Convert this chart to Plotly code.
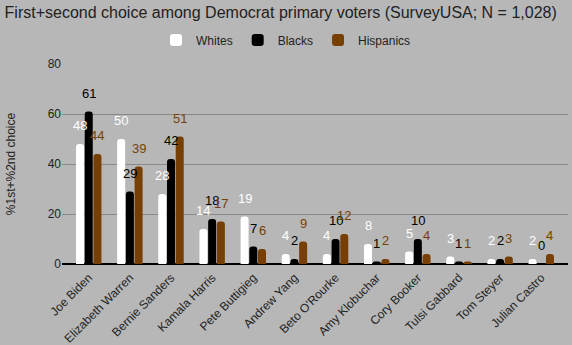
import plotly.graph_objects as go

candidates = ["Joe Biden", "Elizabeth Warren", "Bernie Sanders", "Kamala Harris",
              "Pete Buttigieg", "Andrew Yang", "Beto O'Rourke", "Amy Klobuchar",
              "Cory Booker", "Tulsi Gabbard", "Tom Steyer", "Julian Castro"]
whites = [48, 50, 28, 14, 19, 4, 4, 8, 5, 3, 2, 2]
blacks = [61, 29, 42, 18, 7, 2, 10, 1, 10, 1, 2, 0]
hispanics = [44, 39, 51, 17, 6, 9, 12, 2, 4, 1, 3, 4]

series = [("Whites", whites, "#ffffff"),
          ("Blacks", blacks, "#000000"),
          ("Hispanics", hispanics, "#783f04")]

BARGAP = 0.365
GROUPGAP = 0.08
FONT = "Liberation Sans, Arial"

fig = go.Figure()
slot = (1 - BARGAP) / len(series)
for k, (name, vals, col) in enumerate(series):
    fig.add_trace(go.Bar(
        x=candidates, y=vals, name=name,
        marker=dict(color=col, line=dict(width=0), cornerradius=3),
        cliponaxis=False,
    ))
    off = (k - (len(series) - 1) / 2) * slot
    for i, v in enumerate(vals):
        fig.add_annotation(
            x=i + off, y=v, xref="x", yref="y", text=str(v), showarrow=False,
            yshift=18.5, yanchor="middle", xanchor="center",
            font=dict(color=col, size=13, family=FONT),
        )

fig.update_layout(
    width=572, height=345,
    margin=dict(l=62, r=4, t=64, b=81),
    paper_bgcolor="#b7b7b7", plot_bgcolor="#b7b7b7",
    font=dict(family=FONT, size=12, color="#222222"),
    title=dict(text="First+second choice among Democrat primary voters (SurveyUSA; N = 1,028)",
               x=0.008, xanchor="left", y=0.965, yanchor="middle",
               font=dict(size=16, color="#222222")),
    legend=dict(orientation="h", x=0.5, xanchor="center", xref="container",
                y=0.884, yanchor="middle", yref="container", font=dict(size=12)),
    barmode="group", bargap=BARGAP, bargroupgap=GROUPGAP,
)
fig.update_xaxes(tickangle=-45, showline=True, linecolor="#000000", linewidth=1,
                 range=[-0.65, len(candidates) - 1 + 0.65], ticklabelstandoff=1,
                 tickfont=dict(size=12, color="#222222"), ticks="", automargin=False)
fig.update_yaxes(range=[0, 80], dtick=20, gridcolor="#888888", gridwidth=1,
                 zeroline=True, zerolinecolor="#000000", automargin=False,
                 title=dict(text="%1st+%2nd choice", font=dict(size=12, color="#222222"), standoff=29),
                 tickfont=dict(size=12, color="#222222"))

fig.write_html("out.html")
